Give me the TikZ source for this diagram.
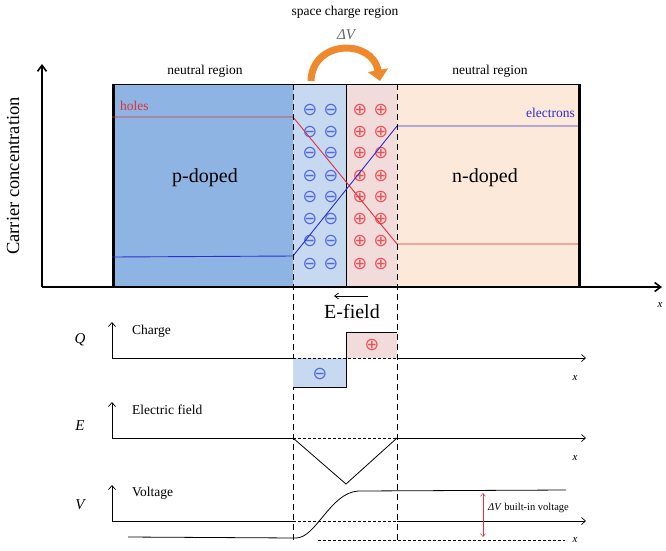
\documentclass[tikz,border=0pt]{standalone}
\usepackage{fontspec}
\setmainfont{Liberation Serif}
\newfontfamily\symfont{DejaVu Sans}
\usetikzlibrary{arrows.meta}

\definecolor{pdoped}{HTML}{8EB4E3}
\definecolor{negzone}{HTML}{C6D9F1}
\definecolor{poszone}{HTML}{F2DCDB}
\definecolor{ndoped}{HTML}{FDE9D9}
\definecolor{holecol}{HTML}{E0303A}
\definecolor{eleccol}{HTML}{2E2ED6}
\definecolor{minuscol}{HTML}{5468E0}
\definecolor{pluscol}{HTML}{E85458}
\definecolor{arrowcol}{HTML}{EE8A2C}

\begin{document}
\begin{tikzpicture}[x=1pt,y=-1pt,
  txt/.style={inner sep=0pt, font=\fontsize{13.5}{15}\selectfont},
  bigtxt/.style={inner sep=0pt, font=\fontsize{20}{22}\selectfont},
  plottxt/.style={inner sep=0pt, anchor=west, font=\fontsize{13.5}{15}\selectfont},
  axlbl/.style={inner sep=0pt, font=\fontsize{15}{17}\itshape},
  xlbl/.style={inner sep=0pt, font=\fontsize{11}{13}\itshape},
  negcharge/.style={inner sep=0pt, text=minuscol, font=\symfont\fontsize{17.5}{17.5}\selectfont},
  poscharge/.style={inner sep=0pt, text=pluscol, font=\symfont\fontsize{17.5}{17.5}\selectfont},
  mainaxis/.style={line width=1.6pt, -{Straight Barb[length=6pt,width=9pt]}},
  smallaxis/.style={line width=0.7pt, -{Straight Barb[length=4pt,width=7pt]}},
  sep/.style={line width=0.8pt, dash pattern=on 6pt off 4pt},
  zero/.style={line width=0.7pt, dash pattern=on 3pt off 2pt}]
\useasboundingbox (0,0) rectangle (666,550);

% regions
\fill[pdoped] (115,84) rectangle (293,287);
\fill[negzone] (293,84) rectangle (346,287);
\fill[poszone] (346,84) rectangle (397,287);
\fill[ndoped] (397,84) rectangle (578,287);
\draw[line width=0.6pt] (112,84) -- (580,84);
\draw[line width=0.8pt] (346,84) -- (346,287);
\draw[line width=3pt] (113.5,84) -- (113.5,287);
\draw[line width=3pt] (579,84) -- (579,287);

% fixed charges
\foreach \y in {110,132,153,176,197,219,241,264} {
  \node[negcharge] (ma\y) at (310,\y) {⊖};
  \node[negcharge] (mb\y) at (331,\y) {⊖};
  \node[poscharge] (pa\y) at (360,\y) {⊕};
  \node[poscharge] (pb\y) at (381,\y) {⊕};
}

% carrier lines
\draw[holecol, line width=0.9pt] (112,117) -- (293,117) -- (397,244) -- (578,244);
\draw[eleccol, line width=0.9pt] (112,257) -- (293,256) -- (397,126) -- (578,126);

% main axes
\coordinate (o) at (42,287);
\coordinate (ytop) at (42,64);
\coordinate (xend) at (662,287);
\draw[mainaxis] (o) -- (ytop);
\draw[mainaxis] (o) -- (xend);

% separation lines
\draw[sep] (293,84) -- (293,541);
\draw[sep] (397,84) -- (397,541);

% texts
\node[txt] (scr) at (345,12) {space charge region};
\node[axlbl, text=black!60] (dv) at (346,35) {ΔV};
\node[txt] (nl) at (205,71) {neutral region};
\node[txt] (nr) at (490,71) {neutral region};
\node[txt, text=holecol, anchor=west] (holes) at (120,106) {holes};
\node[txt, text=eleccol, anchor=east] (elec) at (575,113) {electrons};
\node[bigtxt] (pd) at (205,178) {p-doped};
\node[bigtxt] (nd) at (485,178) {n-doped};
\node[bigtxt, rotate=90, font=\fontsize{18.5}{20}\selectfont] (cc) at (13,176) {Carrier concentration};
\node[xlbl] (x0) at (660,305) {x};

% orange arrow
\coordinate (ob) at (311,81);
\coordinate (ot) at (380,81);
\draw[arrowcol, line width=7pt, -{Triangle[length=11pt,width=20pt]}]
  (ob) .. controls (312,40) and (372,38) .. (ot);

% E-field arrow
\coordinate (ef1) at (368,296);
\coordinate (ef2) at (334,296);
\draw[line width=0.7pt, -{Straight Barb[length=4pt,width=6pt]}] (ef1) -- (ef2);
\node[bigtxt] (ef) at (352,312) {E-field};

% charge plot
\fill[negzone] (293,358) rectangle (346,387);
\fill[poszone] (346,332) rectangle (397,358);
\draw[line width=0.8pt] (293,387) -- (346,387) -- (346,332) -- (397,332);
\draw[smallaxis] (112,358) -- (112,322);
\draw[line width=0.7pt] (112,358) -- (293,358);
\draw[zero] (293,358) -- (397,358);
\draw[smallaxis] (397,358) -- (586,358);
\node[negcharge] (qm) at (320,374) {⊖};
\node[poscharge] (qp) at (372,345) {⊕};
\node[axlbl] (q) at (80,340) {Q};
\node[plottxt] (qt) at (132,331) {Charge};
\node[xlbl] (x1) at (575,378) {x};

% electric field plot
\draw[smallaxis] (112,438) -- (112,402);
\draw[line width=0.7pt] (112,438) -- (293,438);
\draw[zero] (293,438) -- (397,438);
\draw[smallaxis] (397,438) -- (586,438);
\draw[line width=0.8pt] (293,438) -- (346,484) -- (397,438);
\node[axlbl] (e) at (80,426) {E};
\node[plottxt] (et) at (132,410) {Electric field};
\node[xlbl] (x2) at (575,458) {x};

% voltage plot
\draw[smallaxis] (112,521) -- (112,485);
\draw[line width=0.7pt] (112,521) -- (293,521);
\draw[zero] (293,521) -- (397,521);
\draw[smallaxis] (397,521) -- (586,521);
\draw[zero] (318,540) -- (565,540);
\draw[line width=0.8pt] (128,537) -- (296,538) .. controls (316,538) and (330,493) .. (358,491) -- (566,490);
\coordinate (dvt) at (483,493);
\coordinate (dvb) at (483,537);
\draw[holecol, line width=0.5pt, {Straight Barb[length=3pt,width=5pt]}-{Straight Barb[length=3pt,width=5pt]}] (dvt) -- (dvb);
\node[txt, anchor=west, font=\fontsize{10.5}{12}\selectfont] (bi) at (488,508) {\textit{ΔV} built-in voltage};
\node[axlbl] (v) at (80,505) {V};
\node[plottxt] (vt) at (132,493) {Voltage};
\node[xlbl] (x3) at (575,540) {x};
\end{tikzpicture}
\end{document}
